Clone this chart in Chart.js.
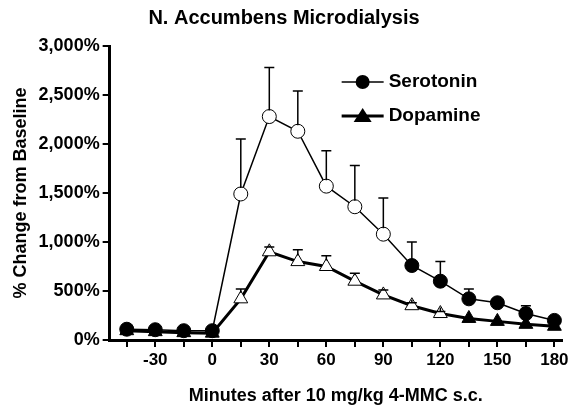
<!DOCTYPE html>
<html><head>
<script src="https://cdn.jsdelivr.net/npm/chart.js@4"></script>
<style>body{margin:0;background:#fff}#c{width:576px;height:415px}</style>
</head><body>
<div id="c"><canvas id="chart"></canvas></div>
<script>
const minutes = [-45,-30,-15,0,15,30,45,60,75,90,105,120,135,150,165,180];
const serotonin = [110,105,95,95,1490,2280,2130,1570,1360,1080,760,600,420,380,270,200];
const serotoninErr = [0,0,0,0,560,500,410,360,420,370,240,200,100,0,80,0];
const dopamine = [95,85,75,70,420,900,800,750,600,460,350,270,220,190,160,140];
const dopamineErr = [0,0,0,0,100,50,120,110,80,50,30,20,0,0,0,0];
const serotoninOpen = [15,30,45,60,75,90];
const dopamineOpen = [15,30,45,60,75,90,105,120];
const xTicks = [-45,-30,-15,0,15,30,45,60,75,90,105,120,135,150,165,180];
const FONT = 'Arial, "Liberation Sans"';

const pts = (ys) => minutes.map((m, i) => ({x: m, y: ys[i]}));
const fills = (open) => minutes.map(m => open.includes(m) ? '#fff' : '#000');

const errorBars = {
  id: 'errorBars',
  afterDatasetsDraw(chart) {
    const {ctx, scales: {x, y}} = chart;
    const errs = [serotoninErr, dopamineErr];
    const vals = [serotonin, dopamine];
    ctx.save();
    ctx.strokeStyle = '#000';
    ctx.lineWidth = 1.5;
    errs.forEach((e, s) => {
      minutes.forEach((m, i) => {
        if (!e[i]) return;
        const px = x.getPixelForValue(m);
        const y0 = y.getPixelForValue(vals[s][i]) - 6;
        const y1 = y.getPixelForValue(vals[s][i] + e[i]);
        ctx.beginPath();
        ctx.moveTo(px, y0); ctx.lineTo(px, y1);
        ctx.moveTo(px - 5, y1); ctx.lineTo(px + 5, y1);
        ctx.stroke();
      });
    });
    ctx.restore();
  }
};

const legendBox = {
  id: 'legendBox',
  afterDraw(chart) {
    const {ctx, chartArea: a} = chart;
    const x0 = a.left + 232, y0 = a.top + 36;
    ctx.save();
    ctx.strokeStyle = '#000'; ctx.fillStyle = '#000';
    ctx.font = 'bold 19px ' + FONT;
    ctx.textBaseline = 'middle';
    [['Serotonin', 'circle', 1.5], ['Dopamine', 'triangle', 3]].forEach(([t, shape, w], i) => {
      const yy = y0 + i * 34;
      ctx.lineWidth = w;
      ctx.beginPath(); ctx.moveTo(x0, yy); ctx.lineTo(x0 + 42, yy); ctx.stroke();
      ctx.beginPath();
      if (shape === 'circle') ctx.arc(x0 + 21, yy, 7, 0, Math.PI * 2);
      else { ctx.moveTo(x0 + 21, yy - 8); ctx.lineTo(x0 + 30, yy + 6); ctx.lineTo(x0 + 12, yy + 6); ctx.closePath(); }
      ctx.fill();
      ctx.fillText(t, x0 + 47, yy);
    });
    ctx.restore();
  }
};

new Chart(document.getElementById('chart'), {
  type: 'scatter',
  data: {
    datasets: [
      {label: 'Serotonin', data: pts(serotonin), showLine: true, borderColor: '#000', borderWidth: 1.5,
       pointStyle: 'circle', pointRadius: 7, pointBackgroundColor: fills(serotoninOpen), pointBorderColor: '#000', pointBorderWidth: 1},
      {label: 'Dopamine', data: pts(dopamine), showLine: true, borderColor: '#000', borderWidth: 3,
       pointStyle: 'triangle', pointRadius: 8, pointBackgroundColor: fills(dopamineOpen), pointBorderColor: '#000', pointBorderWidth: 1}
    ]
  },
  options: {
    responsive: true, maintainAspectRatio: false, animation: false,
    layout: {padding: {left: 6, right: 14, top: 2, bottom: 4}},
    plugins: {
      title: {display: true, text: 'N. Accumbens Microdialysis', color: '#000',
              font: {family: FONT, size: 20, weight: 'bold'}, padding: {top: 4, bottom: 16}},
      legend: {display: false},
      tooltip: {enabled: false}
    },
    scales: {
      x: {
        type: 'linear', min: -54, max: 184,
        afterBuildTicks: (s) => { s.ticks = xTicks.map(v => ({value: v})); },
        ticks: {color: '#000', font: {family: FONT, size: 17, weight: 'bold'}, maxRotation: 0, minRotation: 0, autoSkip: false,
                callback: (v) => v % 30 === 0 ? v : ''},
        grid: {drawOnChartArea: false, color: '#000', tickLength: 7, lineWidth: 2},
        border: {color: '#000', width: 3},
        title: {display: true, text: 'Minutes after 10 mg/kg 4-MMC s.c.', color: '#000',
                font: {family: FONT, size: 18, weight: 'bold'}, padding: {top: 12}}
      },
      y: {
        min: 0, max: 3000,
        ticks: {stepSize: 500, color: '#000', font: {family: FONT, size: 18, weight: 'bold'},
                callback: (v) => v.toLocaleString('en-US') + '%'},
        grid: {drawOnChartArea: false, color: '#000', tickLength: 7, lineWidth: 2},
        border: {color: '#000', width: 3},
        title: {display: true, text: '% Change from Baseline', color: '#000',
                font: {family: FONT, size: 18, weight: 'bold'}}
      }
    }
  },
  plugins: [errorBars, legendBox]
});
</script>
</body></html>
